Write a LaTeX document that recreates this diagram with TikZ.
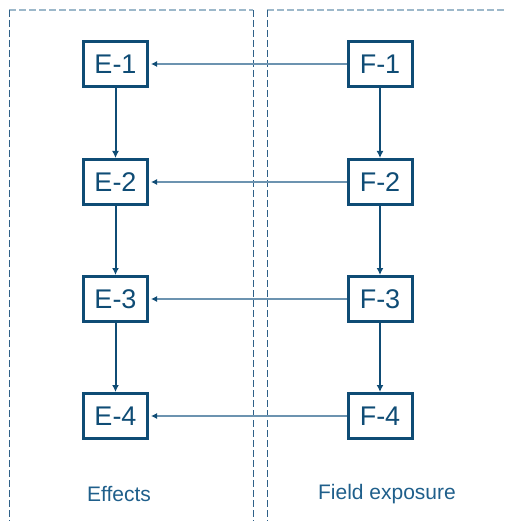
\documentclass[tikz,border=0pt]{standalone}
\usepackage{fontspec}
\setmainfont{Liberation Sans}
\usetikzlibrary{arrows.meta}
\definecolor{boxblue}{HTML}{0F4C75}
\definecolor{labblue}{HTML}{1F5F8B}
\definecolor{linkblue}{HTML}{6C93B0}
\definecolor{toplineblue}{HTML}{9DB8CA}
\definecolor{sideblue}{HTML}{2E6088}
\tikzset{
  stepbox/.style={draw=boxblue, line width=3pt, minimum width=64pt, minimum height=45pt, inner sep=0pt, text=boxblue, font=\fontsize{27pt}{29pt}\selectfont},
  downarrow/.style={draw=boxblue, line width=2pt, -{Latex[length=7pt,width=7pt]}},
  sidearrow/.style={draw=linkblue, line width=1.1pt, -{Latex[length=6pt,width=6pt,color=boxblue]}, shorten >=2pt},
  panelside/.style={draw=sideblue, line width=1pt, dash pattern=on 7pt off 3pt},
  paneltop/.style={draw=toplineblue, line width=1.3pt, dash pattern=on 7pt off 3pt},
  paneltitle/.style={text=labblue, font=\fontsize{21pt}{24pt}\selectfont}
}
\begin{document}
\begin{tikzpicture}[x=1pt,y=-1pt]
\useasboundingbox (0,0) rectangle (504,521);
% panels
\coordinate (LT) at (9,10);
\coordinate (LB) at (9,521);
\coordinate (MT) at (253,10);
\coordinate (MB) at (253,521);
\coordinate (RT) at (267,10);
\coordinate (RB) at (267,521);
\coordinate (RE) at (504,10);
\draw[paneltop] (LT) -- (MT);
\draw[paneltop] (RT) -- (RE);
\draw[panelside] (LT) -- (LB);
\draw[panelside] (MT) -- (MB);
\draw[panelside] (RT) -- (RB);
% boxes
\foreach \i/\y in {1/64,2/182,3/299,4/416}{
  \node[stepbox] (E\i) at (115.5,\y) {E-\i};
  \node[stepbox] (F\i) at (380,\y) {F-\i};
}
\foreach \i/\j in {1/2,2/3,3/4}{
  \draw[downarrow] (E\i) -- (E\j);
  \draw[downarrow] (F\i) -- (F\j);
}
\foreach \i in {1,2,3,4}{
  \draw[sidearrow] (F\i) -- (E\i);
}
\node[paneltitle] (eff) at (119,494) {Effects};
\node[paneltitle] (fld) at (387,494) {Field exposure};
\end{tikzpicture}
\end{document}
